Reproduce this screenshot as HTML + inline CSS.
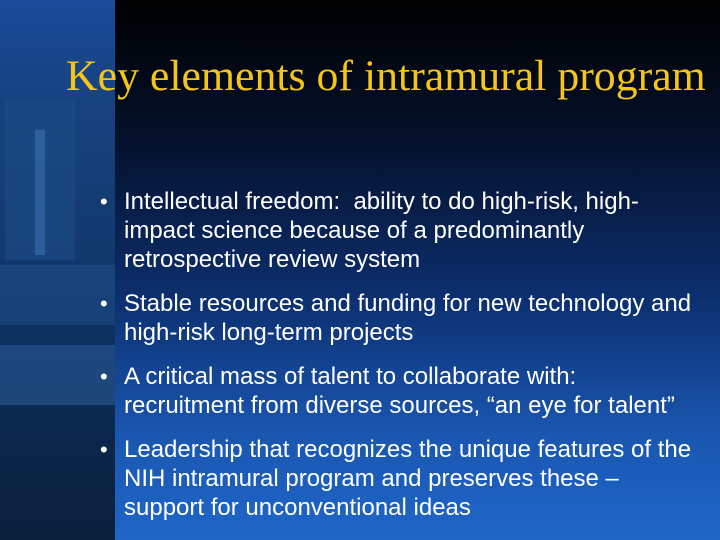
<!DOCTYPE html>
<html><head><meta charset="utf-8"><style>
html,body{margin:0;padding:0}
body{width:720px;height:540px;position:relative;overflow:hidden;background:linear-gradient(to bottom,#000 0%,#04102a 25%,#0c2f6e 55%,#1a56b0 80%,#1f66c8 100%);font-family:"Liberation Sans",sans-serif}
#strip{position:absolute;left:0;top:0;width:115px;height:540px;background:linear-gradient(to bottom,#1a4a9a 0%,#17427f 20%,#123a6e 45%,#0e2f5c 65%,#0b2547 85%,#0a1f3c 100%)}
.bld{position:absolute;background:#1d4c86;opacity:.6}
h1{position:absolute;left:66px;top:51px;margin:0;font-family:"Liberation Serif",serif;font-weight:normal;font-size:43.8px;color:#f5c518;white-space:nowrap}
ul{position:absolute;left:100px;top:187px;margin:0;padding:0;list-style:none;color:#fff;font-size:24px;line-height:29px;white-space:nowrap}
li{position:relative;padding-left:24px;margin-bottom:15px}
li:before{content:"•";position:absolute;left:0;font-size:22px}
</style></head><body>
<div id="strip">
<div class="bld" style="left:5px;top:100px;width:70px;height:160px"></div>
<div class="bld" style="left:35px;top:130px;width:10px;height:125px;background:#3a70b0"></div>
<div class="bld" style="left:0;top:265px;width:115px;height:60px"></div>
<div class="bld" style="left:0;top:345px;width:115px;height:60px;background:#2a5a95"></div>
</div>
<h1>Key elements of intramural program</h1>
<ul>
<li>Intellectual freedom:&nbsp; ability to do high-risk, high-<br>impact science because of a predominantly<br>retrospective review system</li>
<li>Stable resources and funding for new technology and<br>high-risk long-term projects</li>
<li>A critical mass of talent to collaborate with:<br>recruitment from diverse sources, “an eye for talent”</li>
<li>Leadership that recognizes the unique features of the<br>NIH intramural program and preserves these –<br>support for unconventional ideas</li>
</ul>
</body></html>
